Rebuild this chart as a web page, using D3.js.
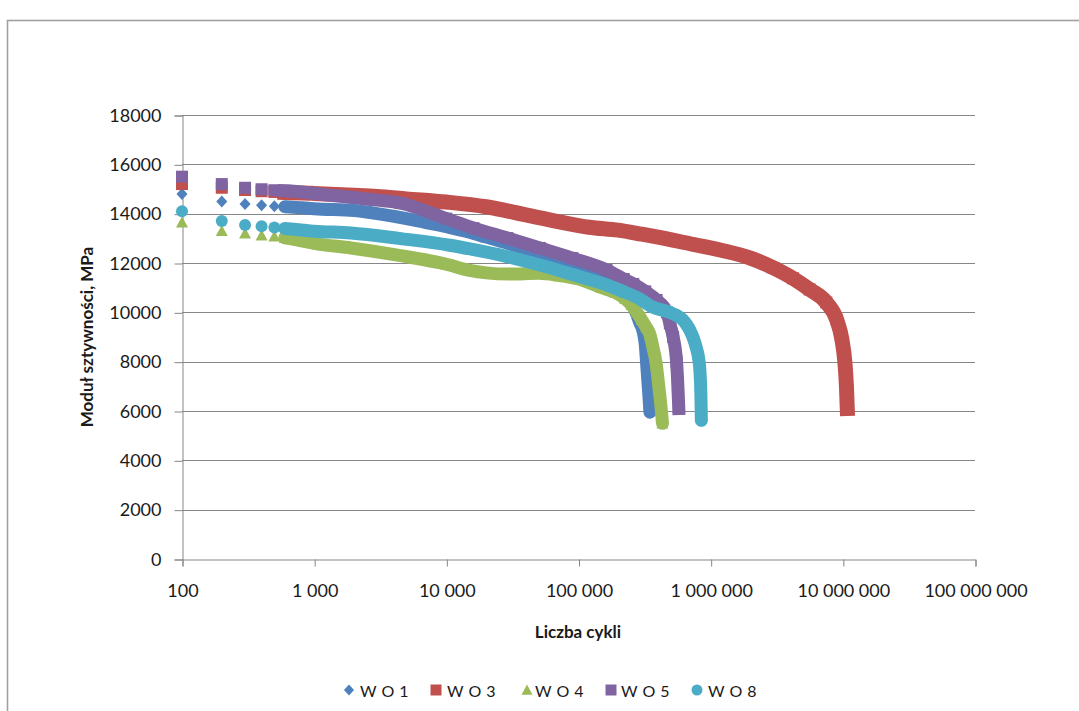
<!DOCTYPE html>
<html>
<head>
<meta charset="utf-8">
<script src="https://cdn.jsdelivr.net/npm/d3@7"></script>
<style>
  html, body { margin: 0; padding: 0; background: #fff; }
  svg { display: block; }
  text { font-family: Lato, "Open Sans", sans-serif; fill: #1a1a1a; }
</style>
</head>
<body>
<svg id="chart" width="1079" height="711"></svg>
<script>
// Stiffness modulus (MPa) versus number of load cycles, one [cycles, modulus] list per specimen
const seriesNames = ["WO1", "WO3", "WO4", "WO5", "WO8"];

const wo1 = [
  [100, 14800], [200, 14490], [300, 14390], [400, 14340], [500, 14300], [600, 14280],
  [700, 14260], [800, 14240], [900, 14220], [1000, 14200], [2000, 14130], [3000, 14000],
  [5000, 13800], [7000, 13640], [10000, 13470], [15000, 13250], [20000, 13050], [30000, 12780],
  [50000, 12400], [70000, 12150], [100000, 11900], [150000, 11450], [200000, 10950],
  [250000, 10400], [272000, 10000], [290000, 9600], [312000, 9100], [320000, 8700],
  [327000, 8000], [335000, 7200], [342000, 6500], [347000, 5950]
];

const wo3 = [
  [100, 15200], [200, 15050], [300, 14960], [400, 14910], [500, 14880], [600, 14860],
  [700, 14850], [800, 14840], [900, 14830], [1000, 14820], [2000, 14750], [3000, 14700],
  [5000, 14600], [10000, 14470], [20000, 14280], [40000, 13950], [70000, 13680],
  [120000, 13450], [200000, 13330], [300000, 13170], [400000, 13050], [700000, 12780],
  [1200000, 12520], [2000000, 12200], [3000000, 11800], [4200000, 11380], [5600000, 10930],
  [7500000, 10400], [9000000, 9690], [9800000, 8950], [10350000, 8000], [10650000, 7000],
  [10800000, 6100]
];

const wo4 = [
  [100, 13650], [200, 13300], [300, 13200], [400, 13120], [500, 13080], [600, 13020],
  [700, 12960], [800, 12900], [900, 12850], [1000, 12800], [1900, 12610], [4500, 12300],
  [10000, 11950], [15000, 11700], [20000, 11600], [30000, 11550], [50000, 11580],
  [70000, 11500], [100000, 11350], [150000, 11000], [190000, 10800], [225000, 10550],
  [252000, 10300], [277000, 10000], [300000, 9700], [325000, 9400], [347000, 9100],
  [365000, 8600], [385000, 8000], [405000, 7000], [424000, 6000], [432000, 5500]
];

const wo5 = [
  [100, 15500], [200, 15200], [300, 15050], [400, 14990], [500, 14950], [600, 14930],
  [700, 14910], [800, 14880], [900, 14850], [1000, 14820], [2000, 14650], [3000, 14550],
  [4500, 14430], [10000, 13800], [16000, 13420], [29000, 13010], [51000, 12610],
  [90000, 12200], [163000, 11720], [220000, 11350], [260000, 11150], [320000, 10850],
  [390000, 10500], [467000, 10000], [491000, 9550], [520000, 9000], [552000, 8000],
  [565000, 7000], [574000, 6100]
];

const wo8 = [
  [100, 14100], [200, 13700], [300, 13540], [400, 13490], [500, 13440], [600, 13400],
  [700, 13370], [800, 13340], [900, 13310], [1000, 13290], [1900, 13220], [4500, 12990],
  [10600, 12720], [15800, 12550], [28800, 12260], [51000, 11920], [90600, 11530],
  [163000, 11110], [205000, 10900], [290000, 10550], [353000, 10250], [490000, 10000],
  [550000, 9880], [610000, 9720], [661000, 9480], [700000, 9250], [740000, 8950],
  [780000, 8550], [810000, 8150], [830000, 7600], [842000, 6800], [848000, 6000],
  [850000, 5620]
];

const seriesData = [wo1, wo3, wo4, wo5, wo8];

const yTickValues = [0, 2000, 4000, 6000, 8000, 10000, 12000, 14000, 16000, 18000];
const xTickValues = [100, 1000, 10000, 100000, 1000000, 10000000, 100000000];

const yTitle = "Moduł sztywności, MPa";
const xTitle = "Liczba cykli";

// ---- drawing styles ----
const colors = ["#4F81BD", "#C0504D", "#9BBB59", "#8064A2", "#4BACC6"];
const shapes = ["diamond", "square", "triangle", "square", "circle"];
const bandWidths = [13, 15, 13, 13, 13];

const svg = d3.select("#chart");
const W = 1079, H = 711;
const plot = { left: 182, right: 975, top: 115, bottom: 559 };

const x = d3.scaleLog().domain([100, 1e8]).range([plot.left, plot.right]);
const y = d3.scaleLinear().domain([0, 18000]).range([plot.bottom, plot.top]);

// outer chart frame (runs past the right and bottom edges)
svg.append("rect")
  .attr("x", 7.5).attr("y", 20.5)
  .attr("width", W + 20).attr("height", H + 20)
  .attr("fill", "none").attr("stroke", "#a0a0a0").attr("stroke-width", 1.6);

const gridColor = "#878787";

// horizontal gridlines
svg.append("g").selectAll("line")
  .data(yTickValues.filter(v => v > 0))
  .join("line")
  .attr("x1", plot.left).attr("x2", plot.right)
  .attr("y1", d => Math.round(y(d)) + 0.5).attr("y2", d => Math.round(y(d)) + 0.5)
  .attr("stroke", gridColor).attr("stroke-width", 1);

// y axis
const yAxis = d3.axisLeft(y).tickValues(yTickValues).tickSize(8).tickPadding(13)
  .tickFormat(d3.format("d"));
const gy = svg.append("g").attr("transform", `translate(${plot.left + 0.5},0.5)`).call(yAxis);
gy.select(".domain").attr("stroke", gridColor);
gy.selectAll(".tick line").attr("stroke", gridColor);
gy.selectAll(".tick text").attr("font-size", 18).attr("font-family", "Lato, sans-serif")
  .attr("fill", "#1a1a1a");

// x axis
const spaced = d3.formatLocale({ decimal: ",", thousands: " ", grouping: [3], currency: ["", ""] });
const xAxis = d3.axisBottom(x).tickValues(xTickValues).tickSize(7).tickPadding(18)
  .tickFormat(spaced.format(",d"));
const gx = svg.append("g").attr("transform", `translate(0.5,${plot.bottom + 0.5})`).call(xAxis);
gx.select(".domain").attr("stroke", gridColor);
gx.selectAll(".tick line").attr("stroke", gridColor);
gx.selectAll(".tick text").attr("font-size", 18).attr("font-family", "Lato, sans-serif")
  .attr("fill", "#1a1a1a");

// axis titles
svg.append("text")
  .attr("transform", "translate(93,337) rotate(-90)")
  .attr("text-anchor", "middle")
  .attr("font-size", 17).attr("font-weight", "bold")
  .text(yTitle);

svg.append("text")
  .attr("x", 578).attr("y", 638)
  .attr("text-anchor", "middle")
  .attr("font-size", 17).attr("font-weight", "bold")
  .text(xTitle);

// marker shapes
function markerPath(shape, s) {
  const h = s / 2;
  switch (shape) {
    case "diamond": return `M0,${-h}L${h * 0.92},0L0,${h}L${-h * 0.92},0Z`;
    case "square": return `M${-h},${-h}H${h}V${h}H${-h}Z`;
    case "triangle": return `M0,${-h}L${h},${h * 0.85}H${-h}Z`;
    case "circle": return `M${h},0A${h},${h} 0 1,1 ${-h},0A${h},${h} 0 1,1 ${h},0Z`;
  }
}
const markerSize = { diamond: 12, square: 12, triangle: 12, circle: 12 };

// dense marker band drawn as a thick stroke through the later points
const band = d3.line()
  .x(d => x(d[0]))
  .y(d => y(d[1]))
  .curve(d3.curveMonotoneX);

seriesData.forEach((data, i) => {
  const g = svg.append("g");
  const shape = shapes[i];
  g.append("path")
    .datum(data.filter(d => d[0] >= 600))
    .attr("d", band)
    .attr("fill", "none")
    .attr("stroke", colors[i])
    .attr("stroke-width", bandWidths[i])
    .attr("stroke-linejoin", "round")
    .attr("stroke-linecap", shape === "square" ? "square" : "round");
  g.selectAll("path.m")
    .data(data)
    .join("path")
    .attr("class", "m")
    .attr("transform", d => `translate(${x(d[0])},${y(d[1])})`)
    .attr("d", markerPath(shape, markerSize[shape]))
    .attr("fill", colors[i]);
});

// legend
const legendItems = [
  { mx: 349, tx: 360 },
  { mx: 436, tx: 447 },
  { mx: 527, tx: 535 },
  { mx: 611, tx: 621 },
  { mx: 697, tx: 708 }
];
const lg = svg.append("g");
seriesNames.forEach((name, i) => {
  lg.append("path")
    .attr("transform", `translate(${legendItems[i].mx},690)`)
    .attr("d", markerPath(shapes[i], 11))
    .attr("fill", colors[i]);
  lg.append("text")
    .attr("x", legendItems[i].tx).attr("y", 697)
    .attr("font-size", 16)
    .attr("letter-spacing", "5px")
    .text(name);
});
</script>
</body>
</html>
